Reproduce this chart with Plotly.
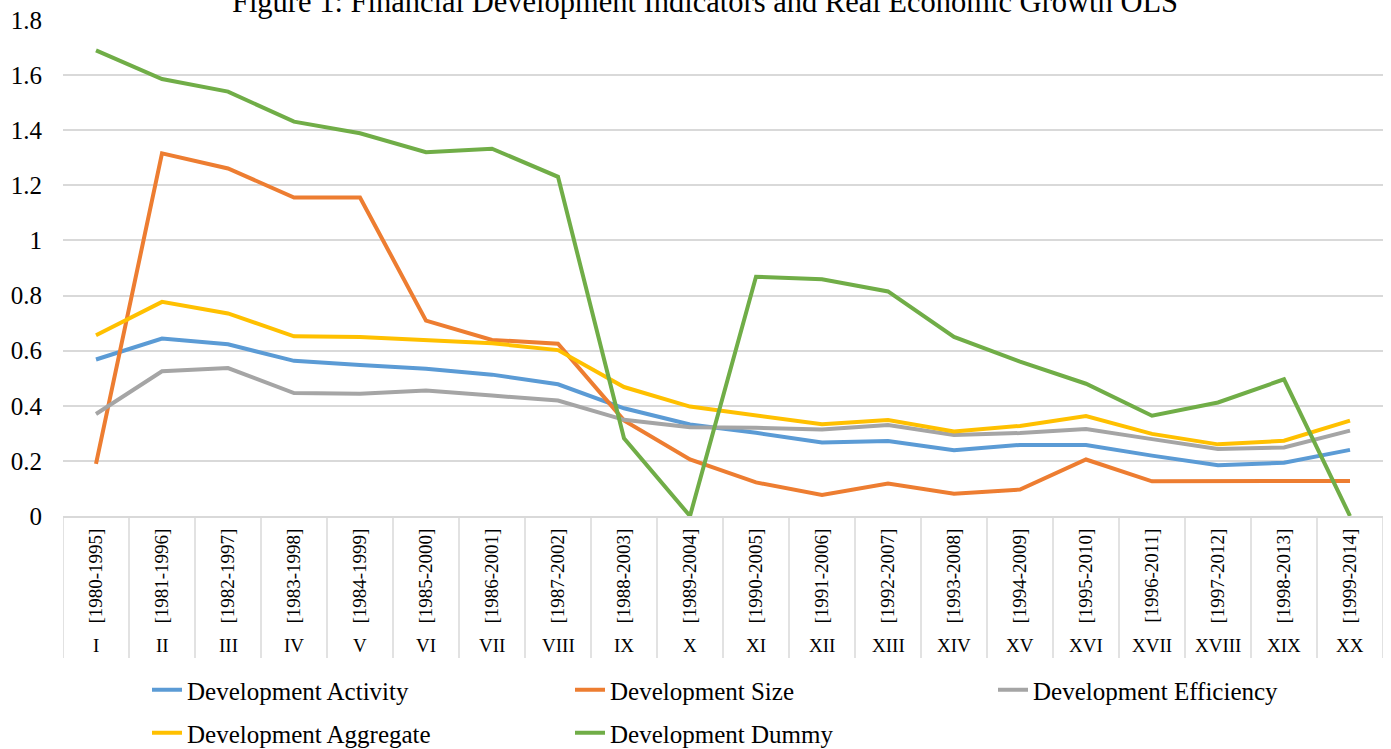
import plotly.graph_objects as go

periods = ["[1980-1995]", "[1981-1996]", "[1982-1997]", "[1983-1998]", "[1984-1999]",
           "[1985-2000]", "[1986-2001]", "[1987-2002]", "[1988-2003]", "[1989-2004]",
           "[1990-2005]", "[1991-2006]", "[1992-2007]", "[1993-2008]", "[1994-2009]",
           "[1995-2010]", "[1996-2011]", "[1997-2012]", "[1998-2013]", "[1999-2014]"]
romans = ["I", "II", "III", "IV", "V", "VI", "VII", "VIII", "IX", "X",
          "XI", "XII", "XIII", "XIV", "XV", "XVI", "XVII", "XVIII", "XIX", "XX"]

activity = [0.568, 0.644, 0.623, 0.563, 0.548, 0.534, 0.513, 0.478, 0.391, 0.332,
            0.302, 0.267, 0.272, 0.239, 0.258, 0.258, 0.219, 0.184, 0.193, 0.240]
size = [0.189, 1.316, 1.261, 1.156, 1.156, 0.709, 0.639, 0.625, 0.347, 0.205,
        0.122, 0.076, 0.118, 0.081, 0.096, 0.205, 0.126, 0.127, 0.127, 0.127]
efficiency = [0.370, 0.525, 0.537, 0.446, 0.444, 0.455, 0.437, 0.419, 0.349, 0.322,
              0.320, 0.314, 0.330, 0.294, 0.301, 0.316, 0.279, 0.243, 0.249, 0.310]
aggregate = [0.656, 0.777, 0.735, 0.652, 0.650, 0.639, 0.627, 0.602, 0.468, 0.397,
             0.366, 0.333, 0.348, 0.307, 0.327, 0.363, 0.298, 0.260, 0.273, 0.346]
dummy = [1.690, 1.586, 1.540, 1.431, 1.389, 1.320, 1.333, 1.231, 0.282, 0.0,
         0.868, 0.859, 0.815, 0.650, 0.560, 0.480, 0.364, 0.412, 0.496, 0.0]

names = ["Development Activity", "Development Size", "Development Efficiency",
         "Development Aggregate", "Development Dummy"]
values = [activity, size, efficiency, aggregate, dummy]
colors = ["#5B9BD5", "#ED7D31", "#A5A5A5", "#FFC000", "#70AD47"]

FONT = "Liberation Serif, Times New Roman, serif"
W, HT = 1391, 749
T, B = 20, 233
H = HT - T - B

def py(pix):
    return (516 - pix) / H

# legend item placement (text-start x, row-centre y) in page pixels
leg_pos = [(187, 690), (610, 690), (1033, 690), (187, 733), (610, 733)]
leg_ids = ["legend", "legend2", "legend3", "legend4", "legend5"]

fig = go.Figure()
for name, vals, color, lid in zip(names, values, colors, leg_ids):
    fig.add_trace(go.Scatter(
        x=periods, y=vals, name=name, mode="lines",
        line=dict(color=color, width=4), legend=lid, cliponaxis=False))

shapes = []
for i in range(len(periods) + 1):
    shapes.append(dict(type="line", xref="x", yref="paper",
                       x0=i - 0.5, x1=i - 0.5, y0=0, y1=py(658),
                       line=dict(color="#d9d9d9", width=1.5), layer="below"))

annotations = []
for p, r in zip(periods, romans):
    annotations.append(dict(x=p, y=py(645), xref="x", yref="paper", text=r,
                            showarrow=False, yanchor="middle",
                            font=dict(family=FONT, size=19, color="#000000")))

legends = {}
for lid, (tx, ty) in zip(leg_ids, leg_pos):
    legends[lid] = dict(orientation="h", xref="container", yref="container",
                        x=(tx - 40) / W, xanchor="left",
                        y=1 - ty / HT, yanchor="middle",
                        font=dict(family=FONT, size=25, color="#000000"),
                        bgcolor="rgba(0,0,0,0)")

fig.update_layout(
    width=W, height=HT,
    margin=dict(l=63, r=8, t=T, b=B, autoexpand=False),
    paper_bgcolor="white", plot_bgcolor="white",
    font=dict(family=FONT, color="#000000"),
    title=dict(text="Figure 1: Financial Development Indicators and Real Economic Growth OLS",
               x=705 / W, xanchor="center", xref="container",
               y=1 - 12 / HT, yanchor="bottom", yref="container",
               font=dict(family=FONT, size=30.5, color="#000000")),
    xaxis=dict(type="category", categoryorder="array", categoryarray=periods,
               range=[-0.5, len(periods) - 0.5],
               tickangle=-90, tickfont=dict(family=FONT, size=19),
               showgrid=False, showline=True, linecolor="#d9d9d9", linewidth=2,
               ticks="", ticklabelstandoff=3, zeroline=False),
    yaxis=dict(range=[0, 1.8], dtick=0.2, tick0=0,
               showgrid=True, gridcolor="#d9d9d9", gridwidth=1.5,
               zeroline=False, showline=False, ticks="",
               tickfont=dict(family=FONT, size=25), ticklabelstandoff=20),
    shapes=shapes,
    annotations=annotations,
    showlegend=True,
    **legends,
)

fig.write_html("out.html", config={"displayModeBar": False},
               post_script="document.body.style.margin='0';document.body.style.overflow='hidden';")
